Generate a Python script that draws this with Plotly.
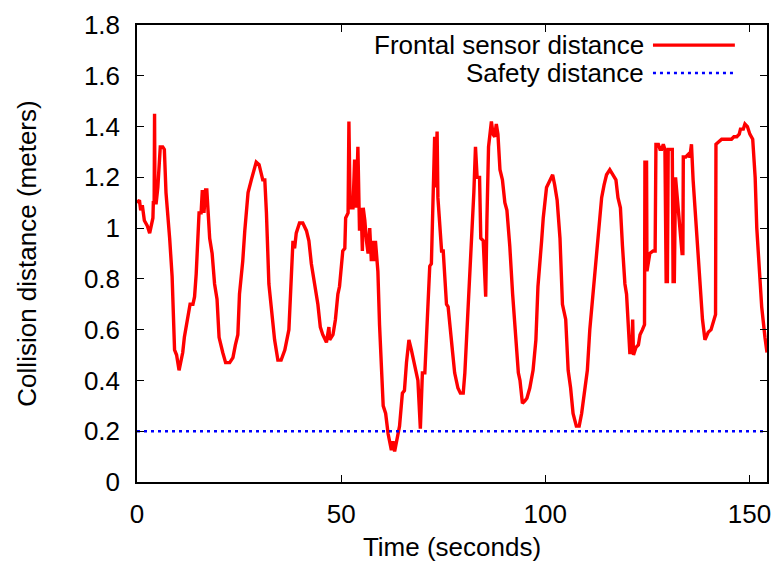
import plotly.graph_objects as go

# Time (seconds)
time_s = [
    0.0, 0.6, 0.9, 1.3, 1.8, 2.5, 3.1, 3.6, 3.9, 4.0, 4.2, 4.3, 4.4, 4.7, 5.1, 5.7, 6.3, 6.7, 7.1, 8.0,
    8.6, 9.2, 9.7, 10.3, 11.2, 11.6, 12.5, 13.0, 13.7, 14.1, 14.5, 15.2, 15.7, 16.0, 16.4, 16.8, 17.1, 17.4, 17.8, 18.4,
    19.0, 19.6, 20.1, 21.0, 21.7, 22.7, 23.5, 24.1, 24.7, 25.1, 25.9, 26.4, 27.2, 28.0, 28.6, 29.2, 29.9, 30.4, 30.8, 31.3,
    31.7, 32.3, 33.1, 33.7, 34.5, 35.3, 36.2, 36.6, 37.2, 37.8, 38.2, 38.6, 39.0, 39.8, 40.6, 41.5, 42.1, 42.7, 43.5, 44.3,
    44.9, 45.5, 46.4, 47.0, 47.2, 48.0, 48.6, 49.2, 49.6, 50.0, 50.4, 50.9, 51.1, 51.7, 51.9, 52.2, 52.9, 53.3, 53.7, 54.1,
    54.5, 54.9, 55.2, 55.4, 55.8, 56.2, 56.6, 57.0, 57.4, 57.8, 58.2, 58.4, 59.0, 59.4, 60.3, 60.9, 61.5, 62.3, 62.7, 63.1,
    63.5, 64.3, 65.0, 65.5, 66.0, 66.6, 67.2, 67.8, 68.4, 68.8, 69.4, 69.9, 70.5, 70.9, 71.3, 71.7, 72.1, 72.5, 72.9, 73.1,
    73.5, 73.7, 74.1, 74.6, 75.0, 75.4, 75.8, 76.2, 76.6, 77.3, 77.8, 78.6, 79.2, 79.9, 80.3, 80.7, 81.1, 81.5, 82.5, 82.9,
    83.3, 83.9, 84.2, 84.8, 85.4, 85.7, 86.1, 86.8, 87.2, 87.6, 88.0, 88.4, 88.9, 89.5, 90.1, 90.6, 91.3, 92.0, 92.5, 92.9,
    93.4, 93.8, 94.4, 95.0, 95.5, 96.2, 97.0, 97.7, 98.2, 99.1, 99.5, 100.3, 101.1, 101.8, 102.3, 102.9, 103.6, 104.2, 105.0, 105.6,
    106.2, 106.8, 107.6, 108.3, 108.9, 109.7, 110.3, 110.9, 111.6, 112.1, 112.8, 113.4, 113.8, 114.4, 115.0, 115.8, 116.6, 117.3, 117.8, 118.4,
    118.9, 119.5, 119.9, 120.3, 120.7, 121.2, 121.4, 121.6, 122.2, 122.8, 123.2, 123.8, 124.3, 124.4, 124.8, 124.9, 125.2, 125.6, 126.4, 126.9,
    127.1, 127.7, 128.1, 128.5, 128.9, 129.3, 129.6, 129.9, 130.1, 131.1, 131.3, 131.6, 131.9, 132.6, 133.0, 133.5, 133.7, 133.8, 134.4, 135.0,
    135.4, 135.8, 136.2, 136.9, 137.5, 138.0, 138.5, 139.1, 139.9, 140.6, 141.2, 141.7, 141.8, 142.6, 143.2, 144.0, 144.8, 145.6, 146.2, 146.9,
    147.5, 147.8, 148.5, 148.9, 149.5, 150.1, 150.8, 151.4, 151.8, 152.4, 153.0, 153.8, 154.3,
]

# Frontal sensor distance (meters)
frontal_distance = [
    1.10, 1.11, 1.07, 1.09, 1.03, 1.01, 0.98, 1.02, 1.04, 1.10, 1.10, 1.45, 1.10, 1.10, 1.16, 1.32, 1.32, 1.31, 1.14, 0.96,
    0.81, 0.52, 0.50, 0.44, 0.51, 0.57, 0.66, 0.70, 0.70, 0.73, 0.82, 1.06, 1.06, 1.15, 1.06, 1.15, 1.15, 1.04, 0.96, 0.90,
    0.78, 0.72, 0.57, 0.51, 0.47, 0.47, 0.49, 0.54, 0.58, 0.74, 0.87, 0.99, 1.14, 1.19, 1.23, 1.26, 1.25, 1.21, 1.19, 1.19,
    1.06, 0.78, 0.66, 0.56, 0.48, 0.48, 0.52, 0.56, 0.60, 0.81, 0.95, 0.92, 0.98, 1.02, 1.02, 0.99, 0.95, 0.86, 0.78, 0.70,
    0.61, 0.58, 0.55, 0.61, 0.56, 0.58, 0.64, 0.74, 0.77, 0.83, 0.91, 0.92, 1.04, 1.06, 1.42, 1.08, 1.08, 1.27, 1.08, 1.32,
    0.99, 1.08, 0.91, 1.08, 1.03, 0.95, 0.90, 1.00, 0.87, 0.95, 0.87, 0.95, 0.83, 0.62, 0.30, 0.27, 0.19, 0.125, 0.16, 0.12,
    0.16, 0.22, 0.35, 0.36, 0.47, 0.56, 0.52, 0.47, 0.43, 0.40, 0.21, 0.43, 0.43, 0.56, 0.75, 0.85, 0.86, 1.16, 1.36, 1.16,
    1.38, 1.12, 1.00, 0.91, 0.91, 0.78, 0.70, 0.69, 0.61, 0.51, 0.43, 0.37, 0.35, 0.35, 0.43, 0.55, 0.72, 0.85, 1.14, 1.32,
    1.20, 1.20, 0.96, 0.95, 0.73, 1.03, 1.32, 1.42, 1.37, 1.36, 1.41, 1.37, 1.23, 1.19, 1.10, 1.07, 0.93, 0.74, 0.64, 0.53,
    0.43, 0.40, 0.31, 0.32, 0.33, 0.37, 0.44, 0.56, 0.77, 0.95, 1.04, 1.16, 1.19, 1.21, 1.17, 1.11, 0.96, 0.70, 0.64, 0.44,
    0.37, 0.27, 0.22, 0.22, 0.27, 0.37, 0.44, 0.60, 0.72, 0.82, 0.94, 1.06, 1.12, 1.17, 1.21, 1.23, 1.21, 1.19, 1.12, 1.08,
    0.93, 0.78, 0.74, 0.64, 0.51, 0.51, 0.64, 0.50, 0.53, 0.54, 0.58, 0.60, 0.62, 1.26, 1.26, 0.83, 0.87, 0.90, 0.91, 0.91,
    1.33, 1.33, 1.31, 1.31, 1.33, 1.31, 0.79, 0.79, 1.31, 1.31, 0.79, 0.79, 1.20, 1.07, 0.98, 0.90, 0.90, 1.28, 1.28, 1.29,
    1.28, 1.33, 1.19, 1.03, 0.86, 0.77, 0.64, 0.56, 0.59, 0.60, 0.64, 0.66, 1.33, 1.34, 1.35, 1.35, 1.35, 1.35, 1.36, 1.36,
    1.37, 1.39, 1.39, 1.41, 1.40, 1.37, 1.35, 1.20, 1.00, 0.86, 0.69, 0.57, 0.51,
]

# Safety distance (meters)
safety_time = [0.0, 154.3]
safety_distance = [0.2, 0.2]

x_range = [0, 154.3]
y_range = [0, 1.8]
x_ticks = [0, 50, 100, 150]
y_ticks = [0, 0.2, 0.4, 0.6, 0.8, 1.0, 1.2, 1.4, 1.6, 1.8]
y_tick_labels = ["0", "0.2", "0.4", "0.6", "0.8", "1", "1.2", "1.4", "1.6", "1.8"]

series_names = ["Frontal sensor distance", "Safety distance"]
RED = "#ff0000"
BLUE = "#0000ff"
FONT = "Liberation Sans, Arial, sans-serif"
FS = 26
KEY_FS = 26

fig = go.Figure()
fig.add_trace(go.Scatter(
    x=time_s, y=frontal_distance, mode="lines", name=series_names[0],
    line=dict(color=RED, width=3.4), showlegend=False,
))
fig.add_trace(go.Scatter(
    x=safety_time, y=safety_distance, mode="lines", name=series_names[1],
    line=dict(color=BLUE, width=2.5, dash="3px,4px"), showlegend=False,
))

# gnuplot-style key: right-aligned text followed by line sample
key_rows = [(0.956, series_names[0], RED, "solid", 3.4), (0.895, series_names[1], BLUE, "3px,4px", 2.5)]
for yk, name, col, dash, w in key_rows:
    fig.add_annotation(
        xref="paper", yref="paper", x=0.806, y=yk, text=name, showarrow=False,
        xanchor="right", yanchor="middle", borderpad=0,
        font=dict(family=FONT, size=KEY_FS, color="black"),
    )
    fig.add_shape(
        type="line", xref="paper", yref="paper", x0=0.819, x1=0.949, y0=yk, y1=yk,
        line=dict(color=col, width=w, dash=dash),
    )

axis_common = dict(
    showline=True, linecolor="black", linewidth=1.5, mirror="ticks",
    ticks="inside", ticklen=7, tickwidth=1, tickcolor="black",
    showgrid=False, zeroline=False, automargin=False,
    tickfont=dict(family=FONT, size=FS, color="black"),
)

fig.update_xaxes(
    range=x_range, tickvals=x_ticks, ticktext=[str(v) for v in x_ticks],
    title=dict(text="Time (seconds)", font=dict(family=FONT, size=FS, color="black"), standoff=14),
    ticklabelstandoff=8,
    **axis_common,
)
fig.update_yaxes(
    range=y_range, tickvals=y_ticks, ticktext=y_tick_labels,
    title=dict(text="Collision distance (meters)", font=dict(family=FONT, size=FS, color="black"), standoff=40),
    ticklabelstandoff=10,
    **axis_common,
)

fig.update_layout(
    width=781, height=562,
    margin=dict(l=137, r=14, t=25, b=80),
    plot_bgcolor="white", paper_bgcolor="white",
    font=dict(family=FONT, size=FS, color="black"),
)

# remove the default 8px page margin so the figure fills the window exactly
fig.write_html(
    "out.html",
    config={"displayModeBar": False},
    post_script="document.body.style.margin='0';document.body.style.overflow='hidden';",
)
